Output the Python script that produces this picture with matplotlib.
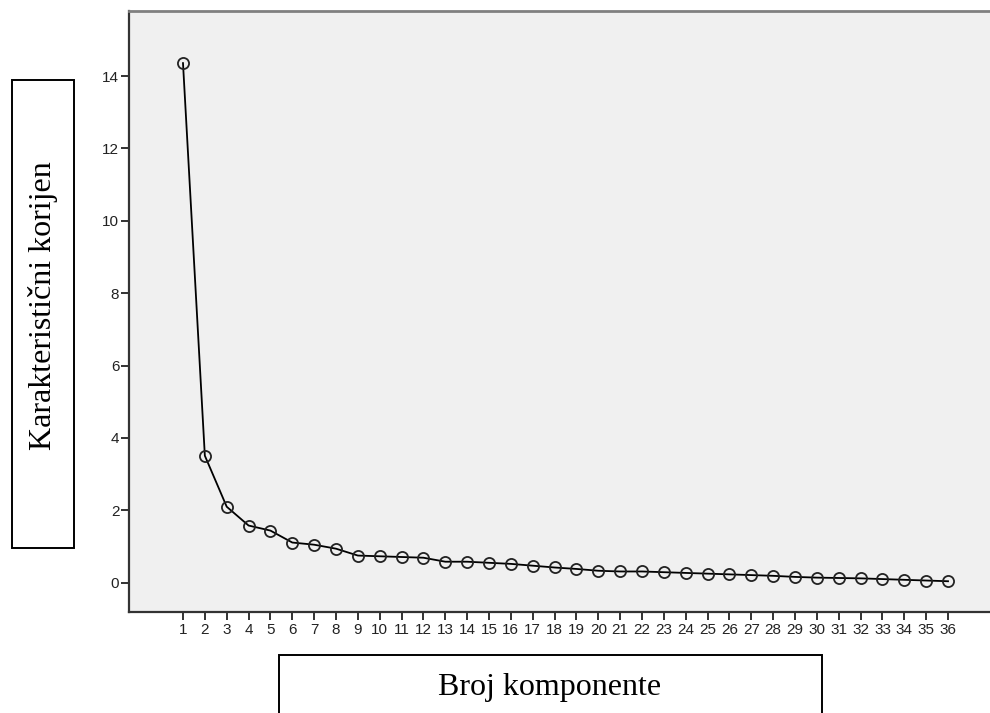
import matplotlib.pyplot as plt
from matplotlib.patches import Rectangle

# scree plot data
komponente = list(range(1, 37))
korijeni = [14.36, 3.51, 2.10, 1.58, 1.44, 1.11, 1.05, 0.94, 0.75, 0.73,
            0.71, 0.69, 0.58, 0.58, 0.55, 0.52, 0.47, 0.42, 0.38, 0.33,
            0.31, 0.31, 0.29, 0.27, 0.25, 0.23, 0.21, 0.19, 0.16, 0.14,
            0.13, 0.12, 0.10, 0.08, 0.06, 0.04]
y_ticks = [0, 2, 4, 6, 8, 10, 12, 14]

fig = plt.figure(figsize=(9.9, 7.13), dpi=100)
ax = fig.add_axes([129 / 990, 101 / 713, 861 / 990, 601 / 713])
ax.set_facecolor('#f0f0f0')

ax.plot(komponente, korijeni, color='black', linewidth=1.3,
        marker='o', markersize=8, markerfacecolor='none',
        markeredgecolor='#222222', markeredgewidth=1.3)

ax.set_xlim(-1.47, 37.92)
ax.set_ylim(-0.81, 15.8)
ax.set_xticks(komponente)
ax.set_xticklabels([str(k) for k in komponente])
ax.set_yticks(y_ticks)

ax.spines['right'].set_visible(False)
ax.spines['top'].set_color('#808080')
ax.spines['top'].set_linewidth(2)
ax.spines['left'].set_color('#333333')
ax.spines['left'].set_linewidth(1.6)
ax.spines['bottom'].set_color('#333333')
ax.spines['bottom'].set_linewidth(1.6)

ax.tick_params(axis='both', direction='out', length=6, width=1.3,
               color='#222222', labelsize=11, labelcolor='#222222')
ax.tick_params(axis='y', pad=1)
ax.tick_params(axis='x', pad=2)
for lab in ax.get_xticklabels() + ax.get_yticklabels():
    lab.set_family('Liberation Sans')

# boxed axis titles
fig.patches.append(Rectangle((12 / 990, 165 / 713), 62 / 990, 468 / 713,
                             transform=fig.transFigure, fill=False,
                             edgecolor='black', linewidth=1.4))
fig.text(43 / 990, 1 - 306 / 713, 'Karakteristični korijen', rotation=90,
         ha='center', va='center', fontsize=23, family='Liberation Serif')

fig.patches.append(Rectangle((279 / 990, -10 / 713), 543 / 990, 68 / 713,
                             transform=fig.transFigure, fill=False,
                             edgecolor='black', linewidth=1.4))
fig.text(550 / 990, 1 - 688 / 713, 'Broj komponente',
         ha='center', va='center', fontsize=23, family='Liberation Serif')

plt.savefig('out.png', dpi=100)
